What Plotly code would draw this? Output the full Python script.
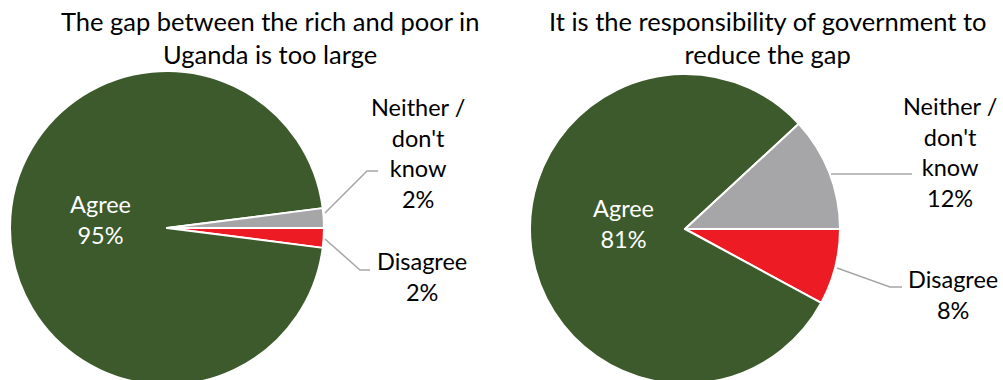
import plotly.graph_objects as go

# ---- data ----
categories = ["Disagree", "Agree", "Neither / don't know"]
label_lines = ["Disagree", "Agree", "Neither /<br>don't<br>know"]
gap_values = [2, 95, 2]          # The gap between rich and poor is too large
gov_values = [8, 81, 12]         # Government responsibility to reduce the gap
titles = [
    "The gap between the rich and poor in<br>Uganda is too large",
    "It is the responsibility of government to<br>reduce the gap",
]
colors = ["#ED1C24", "#3C5A2C", "#A6A6A8"]

# ---- layout helpers (pixel -> paper) ----
W, H = 1003, 400
FONT = "Lato"
FS = 23.5
FS_TITLE = 25.5


def px(x, y):
    return x / W, (H - y) / H


def domain(cx, cy, r):
    x0, y1 = px(cx - r, cy - r)
    x1, y0 = px(cx + r, cy + r)
    return dict(x=[x0, x1], y=[y0, y1])


pies = [
    dict(values=gap_values, center=(167, 228), r=157, title_xy=(270, 37),
         label_xy=[(422, 276), (100, 219), (418, 153)],
         leaders=[[(325, 239), (360, 270), (370, 270)], None,
                  [(325, 213), (367, 171), (378, 171)]]),
    dict(values=gov_values, center=(685, 229), r=155, title_xy=(767, 37),
         label_xy=[(953, 294), (623, 223), (950, 152)],
         leaders=[[(837, 268), (890, 287), (902, 287)], None,
                  [(831, 174), (912, 174)]]),
]

fig = go.Figure()
annotations = []
shapes = []
for i, p in enumerate(pies):
    fig.add_trace(go.Pie(
        labels=categories, values=p["values"], sort=False,
        direction="clockwise", rotation=90,
        marker=dict(colors=colors, line=dict(color="white", width=2)),
        textinfo="none", hoverinfo="label+value",
        domain=domain(p["center"][0], p["center"][1], p["r"]),
        showlegend=False,
    ))
    tx, ty = px(*p["title_xy"])
    annotations.append(dict(text=titles[i], x=tx, y=ty, xref="paper", yref="paper",
                            showarrow=False, xanchor="center", yanchor="middle",
                            font=dict(family=FONT, size=FS_TITLE, color="#000000")))
    for j, cat in enumerate(categories):
        lx, ly = px(*p["label_xy"][j])
        col = "#FFFFFF" if cat == "Agree" else "#000000"
        annotations.append(dict(text=f"{label_lines[j]}<br>{p['values'][j]}%",
                                x=lx, y=ly, xref="paper", yref="paper",
                                showarrow=False, xanchor="center", yanchor="middle",
                                align="center",
                                font=dict(family=FONT, size=FS, color=col)))
        ld = p["leaders"][j]
        if ld:
            pts = [px(x, y) for x, y in ld]
            path = "M " + " L ".join(f"{a},{b}" for a, b in pts)
            shapes.append(dict(type="path", path=path, xref="paper", yref="paper",
                               line=dict(color="#A6A6A6", width=1.5)))

fig.update_layout(
    width=W, height=H, margin=dict(l=0, r=0, t=0, b=0),
    paper_bgcolor="white", plot_bgcolor="white",
    annotations=annotations, shapes=shapes,
    font=dict(family=FONT, size=FS),
)

fig.write_html("out.html", config={"displayModeBar": False},
               post_script="document.body.style.overflow='hidden';document.documentElement.style.overflow='hidden';")
